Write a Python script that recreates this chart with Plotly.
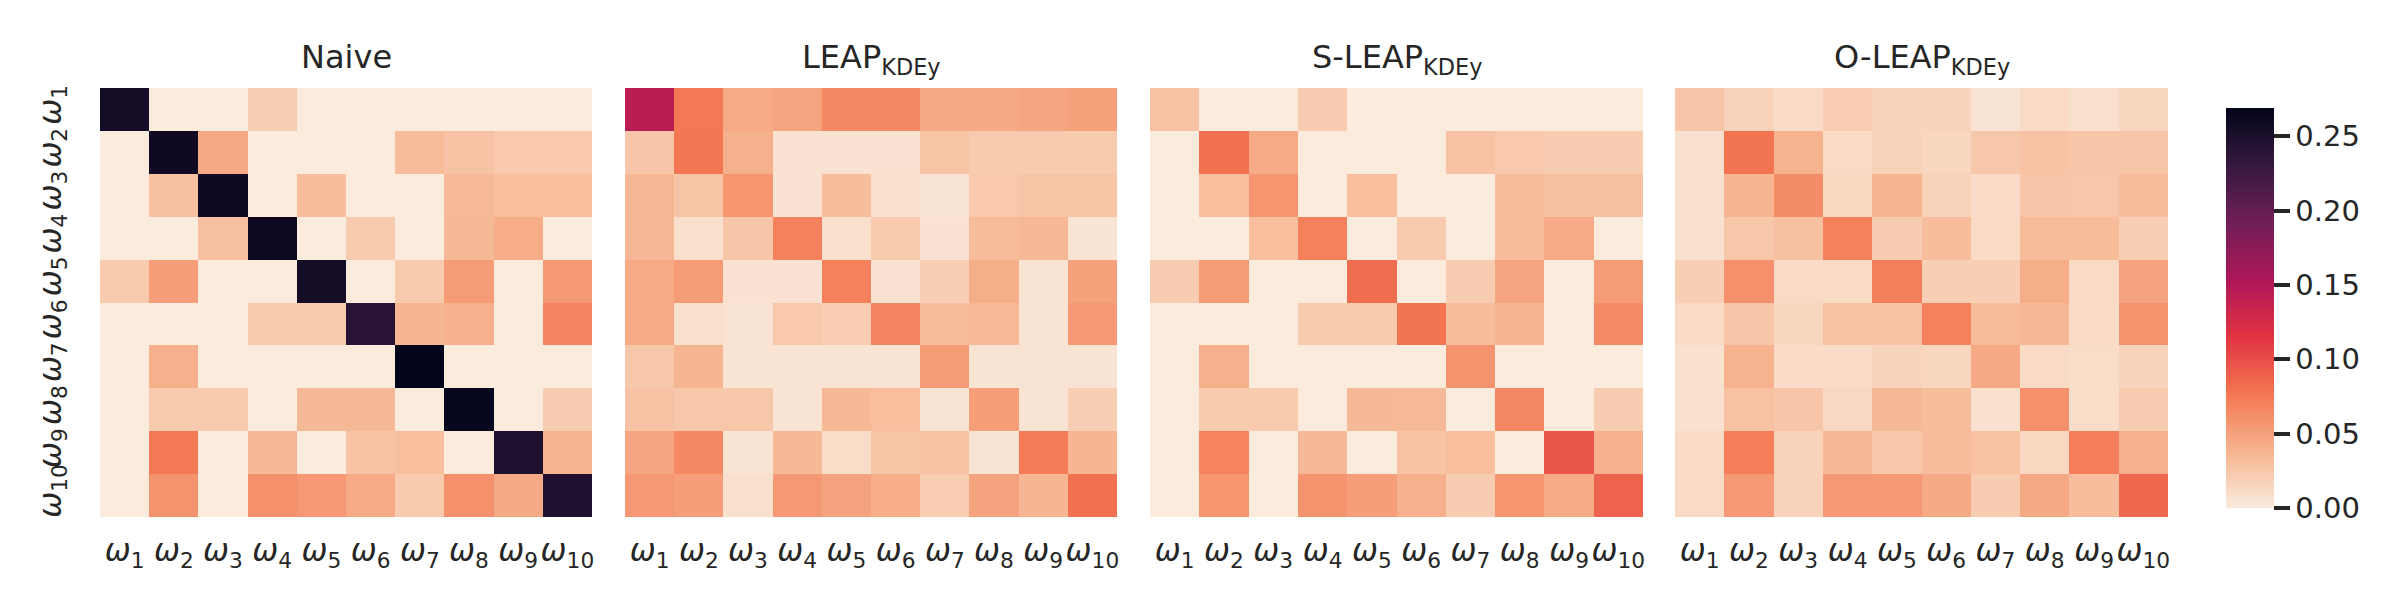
import plotly.graph_objects as go

labels = ["<i>ω</i><sub>%d</sub>" % i for i in range(1, 11)]
titles = ["Naive", "LEAP<sub>KDEy</sub>", "S-LEAP<sub>KDEy</sub>", "O-LEAP<sub>KDEy</sub>"]

naive = [
    [0.255, 0, 0, 0.020, 0, 0, 0, 0, 0, 0],
    [0, 0.260, 0.045, 0, 0, 0, 0.033, 0.028, 0.024, 0.024],
    [0, 0.030, 0.260, 0, 0.032, 0, 0, 0.034, 0.031, 0.031],
    [0, 0, 0.030, 0.262, 0, 0.023, 0, 0.035, 0.043, 0],
    [0.023, 0.052, 0, 0, 0.255, 0, 0.023, 0.053, 0, 0.055],
    [0, 0, 0, 0.023, 0.023, 0.240, 0.037, 0.040, 0, 0.068],
    [0, 0.040, 0, 0, 0, 0, 0.269, 0, 0, 0],
    [0, 0.023, 0.023, 0, 0.035, 0.035, 0, 0.266, 0, 0.022],
    [0, 0.075, 0, 0.035, 0, 0.028, 0.031, 0, 0.248, 0.038],
    [0, 0.058, 0, 0.060, 0.056, 0.044, 0.023, 0.060, 0.045, 0.248],
]

leap = [
    [0.145, 0.075, 0.044, 0.048, 0.065, 0.065, 0.045, 0.045, 0.048, 0.050],
    [0.026, 0.076, 0.041, 0.006, 0.006, 0.006, 0.027, 0.023, 0.023, 0.023],
    [0.036, 0.027, 0.057, 0.006, 0.032, 0.008, 0.005, 0.024, 0.027, 0.027],
    [0.036, 0.008, 0.026, 0.070, 0.008, 0.023, 0.006, 0.033, 0.036, 0.005],
    [0.044, 0.053, 0.006, 0.006, 0.070, 0.006, 0.020, 0.042, 0.005, 0.050],
    [0.044, 0.008, 0.005, 0.024, 0.021, 0.068, 0.032, 0.034, 0.005, 0.055],
    [0.025, 0.037, 0.005, 0.005, 0.005, 0.005, 0.053, 0.005, 0.005, 0.005],
    [0.028, 0.025, 0.025, 0.005, 0.035, 0.031, 0.005, 0.052, 0.005, 0.020],
    [0.048, 0.065, 0.005, 0.035, 0.010, 0.027, 0.028, 0.005, 0.074, 0.037],
    [0.056, 0.052, 0.008, 0.055, 0.049, 0.043, 0.021, 0.049, 0.037, 0.080],
]

s_leap = [
    [0.028, 0, 0, 0.022, 0, 0, 0, 0, 0, 0],
    [0, 0.080, 0.044, 0, 0, 0, 0.028, 0.024, 0.022, 0.022],
    [0, 0.031, 0.057, 0, 0.031, 0, 0, 0.032, 0.030, 0.030],
    [0, 0, 0.031, 0.070, 0, 0.023, 0, 0.032, 0.044, 0],
    [0.022, 0.053, 0, 0, 0.082, 0, 0.022, 0.047, 0, 0.053],
    [0, 0, 0, 0.023, 0.023, 0.078, 0.032, 0.038, 0, 0.064],
    [0, 0.040, 0, 0, 0, 0, 0.058, 0, 0, 0],
    [0, 0.023, 0.023, 0, 0.035, 0.034, 0, 0.066, 0, 0.022],
    [0, 0.069, 0, 0.035, 0, 0.028, 0.031, 0, 0.095, 0.040],
    [0, 0.057, 0, 0.058, 0.052, 0.041, 0.022, 0.057, 0.044, 0.088],
]

o_leap = [
    [0.026, 0.017, 0.011, 0.021, 0.016, 0.016, 0.005, 0.012, 0.008, 0.015],
    [0.007, 0.078, 0.039, 0.012, 0.017, 0.015, 0.025, 0.028, 0.026, 0.026],
    [0.007, 0.037, 0.063, 0.014, 0.037, 0.017, 0.011, 0.026, 0.025, 0.032],
    [0.007, 0.025, 0.030, 0.070, 0.022, 0.032, 0.012, 0.033, 0.033, 0.020],
    [0.020, 0.061, 0.012, 0.012, 0.071, 0.020, 0.020, 0.042, 0.012, 0.049],
    [0.012, 0.026, 0.015, 0.028, 0.028, 0.070, 0.033, 0.036, 0.012, 0.058],
    [0.007, 0.039, 0.011, 0.011, 0.016, 0.015, 0.045, 0.012, 0.010, 0.016],
    [0.007, 0.029, 0.026, 0.013, 0.035, 0.032, 0.007, 0.060, 0.010, 0.022],
    [0.012, 0.072, 0.017, 0.035, 0.025, 0.032, 0.029, 0.014, 0.072, 0.040],
    [0.012, 0.055, 0.017, 0.055, 0.055, 0.045, 0.022, 0.045, 0.032, 0.085],
]

# seaborn "rocket_r"
rocket_r = [
    [0.0, "#faebdd"],
    [1 / 7, "#f6b48f"],
    [2 / 7, "#f37651"],
    [3 / 7, "#e13342"],
    [4 / 7, "#ad1759"],
    [5 / 7, "#701f57"],
    [6 / 7, "#35193e"],
    [1.0, "#03051a"],
]

txt = "#262626"
font = "DejaVu Sans"
W, H = 2400, 600
x_dom = [(92, 584), (617, 1109), (1142, 1635), (1667, 2160)]
y_dom = [1 - 509 / H, 1 - 80 / H]

fig = go.Figure()
data = [naive, leap, s_leap, o_leap]
for i, z in enumerate(data):
    n = "" if i == 0 else str(i + 1)
    fig.add_trace(go.Heatmap(z=z, x=labels, y=labels, coloraxis="coloraxis",
                             xaxis="x" + n, yaxis="y" + n))
    fig.layout["xaxis" + n] = dict(
        domain=[x_dom[i][0] / W, x_dom[i][1] / W], anchor="y" + n,
        showgrid=False, zeroline=False, showline=False, ticks="",
        ticklabelstandoff=12, automargin=False,
        tickfont=dict(size=31, color=txt, family=font))
    fig.layout["yaxis" + n] = dict(
        domain=y_dom, anchor="x" + n, autorange="reversed",
        showgrid=False, zeroline=False, showline=False, ticks="",
        showticklabels=(i == 0), tickangle=-90, ticklabelstandoff=32,
        automargin=False,
        tickfont=dict(size=31, color=txt, family=font))
    fig.add_annotation(text=titles[i], xref="paper", yref="paper",
                       x=(x_dom[i][0] + x_dom[i][1]) / 2 / W, y=1 - 28 / H,
                       xanchor="center", yanchor="top", showarrow=False,
                       font=dict(size=32, color=txt, family=font))

fig.update_layout(
    width=W, height=H,
    margin=dict(l=0, r=0, t=0, b=0),
    paper_bgcolor="white", plot_bgcolor="white",
    font=dict(family=font, color=txt),
    coloraxis=dict(
        colorscale=rocket_r, cmin=0, cmax=max(max(r) for r in naive),
        colorbar=dict(
            x=2208 / W, xanchor="left", y=0.5, yanchor="middle",
            thickness=48, len=420, lenmode="pixels", outlinewidth=0,
            ticks="outside", ticklen=16, tickwidth=4, tickcolor=txt,
            tick0=0, dtick=0.05, tickformat=".2f",
            tickfont=dict(size=29, color=txt, family=font))),
)

fig.write_html("out.html")
